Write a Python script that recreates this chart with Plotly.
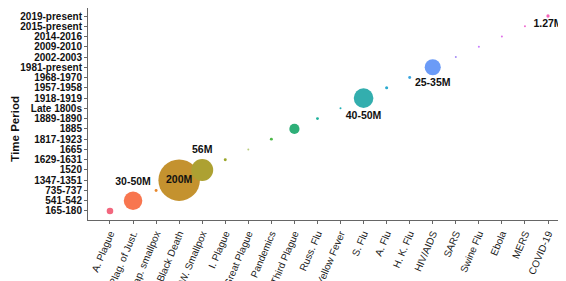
import plotly.graph_objects as go

# ---- data ----
pandemics = ["A. Plague", "Plag. of Just.", "Jap. smallpox", "Black Death", "W. Smallpox",
             "I. Plague", "Great Plague", "C. Pandemics", "Third Plague", "Russ. Flu",
             "Yellow Fever", "S. Flu", "A. Flu", "H. K. Flu", "HIV/AIDS",
             "SARS", "Swine Flu", "Ebola", "MERS", "COVID-19"]
periods = ["165-180", "541-542", "735-737", "1347-1351", "1520",
           "1629-1631", "1665", "1817-1923", "1885", "1889-1890",
           "Late 1800s", "1918-1919", "1957-1958", "1968-1970", "1981-present",
           "2002-2003", "2009-2010", "2014-2016", "2015-present", "2019-present"]
deaths_m = [5, 40, 1, 200, 56,
            1, 0.1, 1, 12, 1,
            0.15, 45, 1.1, 1, 30,
            0.00077, 0.2, 0.0113, 0.00085, 1.27]
labels = ["", "30-50M", "", "200M", "56M",
          "", "", "", "", "",
          "", "40-50M", "", "", "25-35M",
          "", "", "", "", "1.27M"]
label_pos = ["top center", "top center", "top center", "middle center", "top center",
             "top center", "top center", "top center", "top center", "top center",
             "top center", "bottom center", "top center", "top center", "bottom center",
             "top center", "top center", "top center", "top center", "bottom center"]
colors = ["#F2677E", "#F8764F", "#E8872A", "#C4922F", "#ADA132",
          "#9AA62A", "#B9CC7E", "#4DB848", "#2EAF78", "#1FB29C",
          "#1FB0B5", "#33AEAE", "#2AAAD0", "#3AA5DE", "#6B9BF7",
          "#A58CF5", "#C77CFF", "#E070E8", "#F06AD0", "#F464B8"]

max_diam = 41.5
sizeref = 2.0 * max(deaths_m) / (max_diam ** 2)

FONT = "Liberation Sans, Arial, sans-serif"
fig = go.Figure()
fig.add_trace(go.Scatter(
    x=pandemics, y=periods, mode="markers+text",
    text=labels, textposition=label_pos,
    textfont=dict(family=FONT, size=10.5, color="#111111", weight="bold"),
    marker=dict(size=deaths_m, sizemode="area", sizeref=sizeref, sizemin=1,
                color=colors, opacity=1, line=dict(width=0)),
    cliponaxis=False, showlegend=False, hoverinfo="x+y"))

axis_col = "#666666"
fig.update_layout(
    width=558, height=273,
    margin=dict(l=80, r=6, t=0, b=61),
    paper_bgcolor="white", plot_bgcolor="white",
    font=dict(family=FONT, color="#111111"),
    xaxis=dict(categoryorder="array", categoryarray=pandemics,
               tickmode="array", tickvals=pandemics, ticktext=pandemics,
               range=[-0.954, 19.52], showgrid=False, zeroline=False,
               showline=True, linecolor=axis_col, linewidth=1, mirror=True,
               ticks="outside", ticklen=3, tickcolor=axis_col,
               tickangle=-67, automargin=False,
               tickfont=dict(family=FONT, size=10, color="#1a1a1a")),
    yaxis=dict(categoryorder="array", categoryarray=periods,
               tickmode="array", tickvals=periods, ticktext=periods,
               range=[-0.88, 19.78], showgrid=False, zeroline=False,
               showline=True, linecolor=axis_col, linewidth=1,
               ticks="outside", ticklen=3, tickcolor=axis_col, automargin=False,
               tickfont=dict(family=FONT, size=10, color="#111111", weight="bold")),
    annotations=[
        dict(text="Time Period", xref="paper", yref="paper", x=-0.155, y=0.43,
             xanchor="center", yanchor="middle", textangle=-90, showarrow=False,
             font=dict(family=FONT, size=11.5, color="#111111", weight="bold")),
    ],
)
fig.write_html("out.html")
